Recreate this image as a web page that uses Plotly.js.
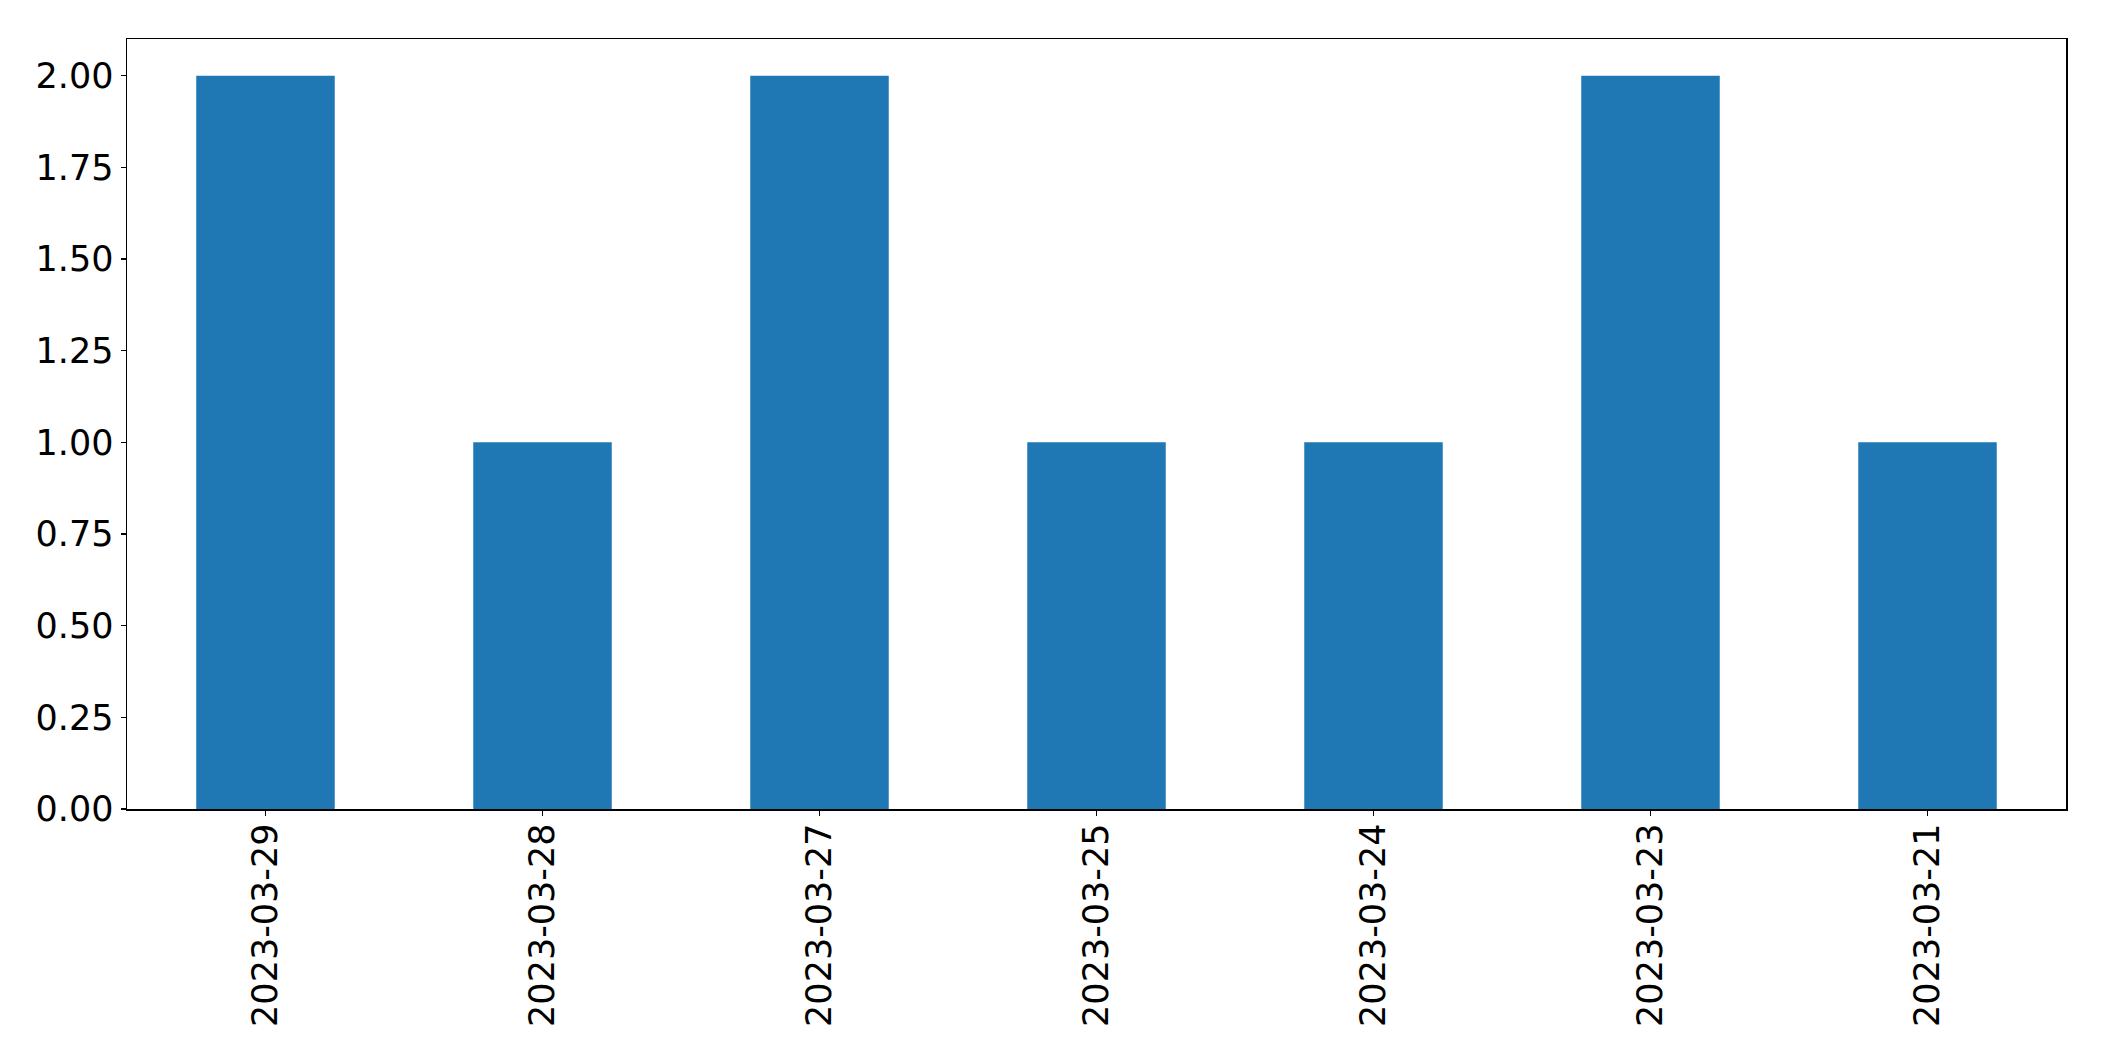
<!DOCTYPE html>
<html>
<head>
<meta charset="utf-8">
<script src="https://cdn.plot.ly/plotly-3.0.1.min.js"></script>
<style>html,body{margin:0;padding:0;background:#fff;}#chart{width:2104px;height:1061px;}</style>
</head>
<body>
<div id="chart"></div>
<script>
const categories = ["2023-03-29", "2023-03-28", "2023-03-27", "2023-03-25", "2023-03-24", "2023-03-23", "2023-03-21"];
const counts = [2, 1, 2, 1, 1, 2, 1];
const yTickVals = [0, 0.25, 0.5, 0.75, 1.0, 1.25, 1.5, 1.75, 2.0];
const yTickText = ["0.00", "0.25", "0.50", "0.75", "1.00", "1.25", "1.50", "1.75", "2.00"];

const trace = {
  type: 'bar',
  x: categories,
  y: counts,
  width: 0.5,
  marker: {color: '#1f77b4', line: {width: 0}},
  hoverinfo: 'x+y'
};

const layout = {
  width: 2104,
  height: 1061,
  margin: {l: 127, r: 38, t: 39, b: 252, pad: 0},
  paper_bgcolor: '#ffffff',
  plot_bgcolor: '#ffffff',
  showlegend: false,
  font: {family: 'DejaVu Sans', size: 35, color: '#000000'},
  bargap: 0.5,
  xaxis: {
    type: 'category',
    range: [-0.5, 6.5],
    tickangle: -90,
    showgrid: false,
    zeroline: false,
    showline: true,
    linecolor: '#000000',
    linewidth: 1.5,
    mirror: true,
    ticks: 'outside',
    ticklen: 5,
    tickwidth: 1.5,
    tickcolor: '#000000',
    ticklabelstandoff: -6,
    tickfont: {family: 'DejaVu Sans', size: 35, color: '#000000'}
  },
  yaxis: {
    range: [0, 2.1],
    tickvals: yTickVals,
    ticktext: yTickText,
    showgrid: false,
    zeroline: false,
    showline: true,
    linecolor: '#000000',
    linewidth: 1.5,
    mirror: true,
    ticks: 'outside',
    ticklen: 5,
    tickwidth: 1.5,
    tickcolor: '#000000',
    tickfont: {family: 'DejaVu Sans', size: 35, color: '#000000'}
  }
};

Plotly.newPlot('chart', [trace], layout, {displayModeBar: false, staticPlot: true});
</script>
</body>
</html>
